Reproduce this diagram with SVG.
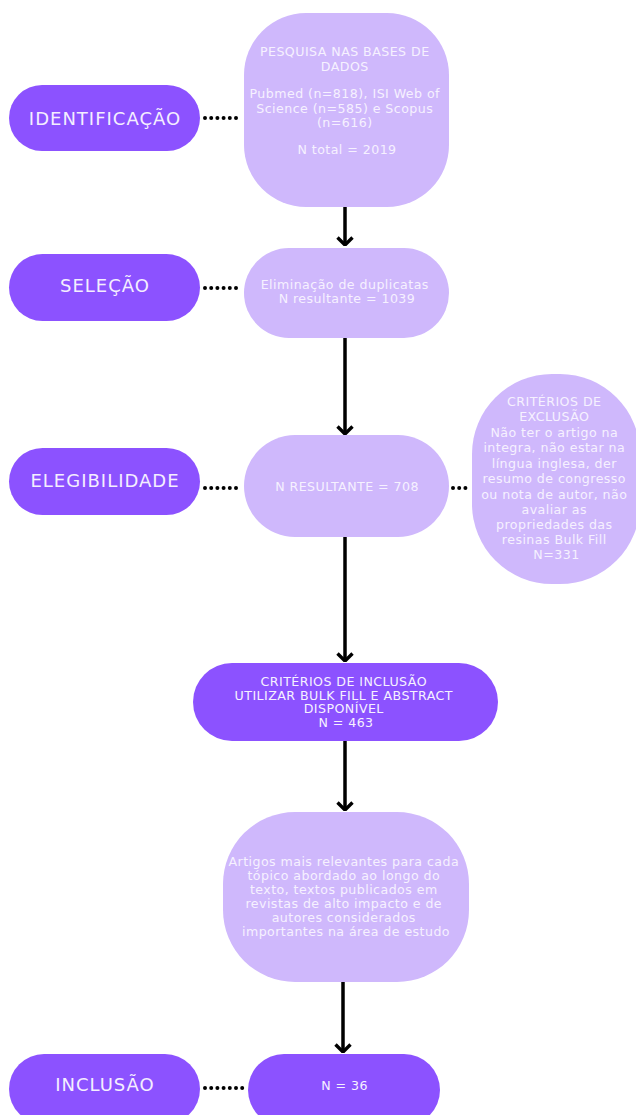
<svg xmlns="http://www.w3.org/2000/svg" width="636" height="1115" viewBox="0 0 636 1115">
  <defs>
    <marker id="arrowDown" viewBox="0 0 18 10" refX="9" refY="9" markerWidth="18" markerHeight="10" markerUnits="userSpaceOnUse" orient="0">
      <path d="M1.5,1.5 L9,9 L16.5,1.5" fill="none" stroke="#000" stroke-width="3.4"/>
    </marker>
  </defs>
  <style>
    .dark { fill: #8C52FF; }
    .light { fill: #CFB8FC; }
    .stage { font-family: "DejaVu Sans", "Liberation Sans", sans-serif; font-size: 18px; letter-spacing: 1px; fill: #F4EEFF; text-anchor: middle; }
    .body { font-family: "DejaVu Sans", "Liberation Sans", sans-serif; font-size: 12.6px; letter-spacing: 0.45px; fill: #F6F1FF; text-anchor: middle; }
    .flow { stroke: #000; stroke-width: 3.5; fill: none; }
    .dots { stroke: #000; stroke-width: 4; stroke-linecap: round; stroke-dasharray: 0 6.2; fill: none; }
  </style>

  <!-- connectors -->
  <g id="connectors">
    <line class="flow" x1="345" y1="207" x2="345" y2="245" marker-end="url(#arrowDown)"/>
    <line class="flow" x1="345" y1="338" x2="345" y2="434" marker-end="url(#arrowDown)"/>
    <line class="flow" x1="345" y1="537" x2="345" y2="661" marker-end="url(#arrowDown)"/>
    <line class="flow" x1="345" y1="741" x2="345" y2="810" marker-end="url(#arrowDown)"/>
    <line class="flow" x1="343" y1="982" x2="343" y2="1052" marker-end="url(#arrowDown)"/>
    <line class="dots" x1="205" y1="118" x2="242" y2="118"/>
    <line class="dots" x1="205" y1="288" x2="242" y2="288"/>
    <line class="dots" x1="205" y1="488" x2="242" y2="488"/>
    <line class="dots" x1="453" y1="488" x2="471" y2="488"/>
    <line class="dots" x1="205" y1="1088" x2="246" y2="1088"/>
  </g>

  <!-- stage labels -->
  <g id="stage-identificacao">
    <rect class="dark" x="9" y="85" width="191" height="66" rx="33"/>
    <text class="stage" x="105" y="124.5">IDENTIFICAÇÃO</text>
  </g>
  <g id="stage-selecao">
    <rect class="dark" x="9" y="254" width="191" height="67" rx="33.5"/>
    <text class="stage" x="105" y="292">SELEÇÃO</text>
  </g>
  <g id="stage-elegibilidade">
    <rect class="dark" x="9" y="448" width="191" height="67" rx="33.5"/>
    <text class="stage" x="105" y="487">ELEGIBILIDADE</text>
  </g>
  <g id="stage-inclusao">
    <rect class="dark" x="9" y="1054" width="191" height="70" rx="35"/>
    <text class="stage" x="105" y="1091">INCLUSÃO</text>
  </g>

  <!-- flow boxes -->
  <g id="box-pesquisa">
    <rect class="light" x="244" y="13" width="205" height="194" rx="62"/>
    <text class="body">
      <tspan x="347" y="56">PESQUISA NAS BASES DE</tspan>
      <tspan x="347" y="71">DADOS</tspan>
      <tspan x="347" y="98">Pubmed (n=818), ISI Web of</tspan>
      <tspan x="347" y="112.5">Science (n=585) e Scopus</tspan>
      <tspan x="347" y="127">(n=616)</tspan>
      <tspan x="347" y="154">N total = 2019</tspan>
    </text>
  </g>
  <g id="box-duplicatas">
    <rect class="light" x="244" y="248" width="205" height="90" rx="45"/>
    <text class="body">
      <tspan x="347" y="289">Eliminação de duplicatas</tspan>
      <tspan x="347" y="303">N resultante = 1039</tspan>
    </text>
  </g>
  <g id="box-resultante">
    <rect class="light" x="244" y="435" width="205" height="102" rx="51"/>
    <text class="body" x="347" y="491">N RESULTANTE = 708</text>
  </g>
  <g id="box-exclusao">
    <rect class="light" x="472" y="374" width="168" height="210" rx="80"/>
    <text class="body">
      <tspan x="556.5" y="406">CRITÉRIOS DE</tspan>
      <tspan x="556.5" y="421">EXCLUSÃO</tspan>
      <tspan x="556.5" y="436.5">Não ter o artigo na</tspan>
      <tspan x="556.5" y="452">integra, não estar na</tspan>
      <tspan x="556.5" y="467.5">língua inglesa, der</tspan>
      <tspan x="556.5" y="483">resumo de congresso</tspan>
      <tspan x="556.5" y="498.5">ou nota de autor, não</tspan>
      <tspan x="556.5" y="514">avaliar as</tspan>
      <tspan x="556.5" y="529">propriedades das</tspan>
      <tspan x="556.5" y="544">resinas Bulk Fill</tspan>
      <tspan x="556.5" y="559">N=331</tspan>
    </text>
  </g>
  <g id="box-inclusao-criterios">
    <rect class="dark" x="193" y="663" width="305" height="78" rx="39"/>
    <text class="body">
      <tspan x="346" y="686">CRITÉRIOS DE INCLUSÃO</tspan>
      <tspan x="346" y="699.5">UTILIZAR BULK FILL E ABSTRACT</tspan>
      <tspan x="346" y="713">DISPONÍVEL</tspan>
      <tspan x="346" y="727">N = 463</tspan>
    </text>
  </g>
  <g id="box-artigos">
    <rect class="light" x="223" y="812" width="246" height="170" rx="72"/>
    <text class="body">
      <tspan x="346" y="866">Artigos mais relevantes para cada</tspan>
      <tspan x="346" y="880">tópico abordado ao longo do</tspan>
      <tspan x="346" y="894">texto, textos publicados em</tspan>
      <tspan x="346" y="908">revistas de alto impacto e de</tspan>
      <tspan x="346" y="922">autores considerados</tspan>
      <tspan x="346" y="936">importantes na área de estudo</tspan>
    </text>
  </g>
  <g id="box-final">
    <rect class="dark" x="248" y="1054" width="192" height="72" rx="36"/>
    <text class="body" x="344.5" y="1089.5">N = 36</text>
  </g>
</svg>
